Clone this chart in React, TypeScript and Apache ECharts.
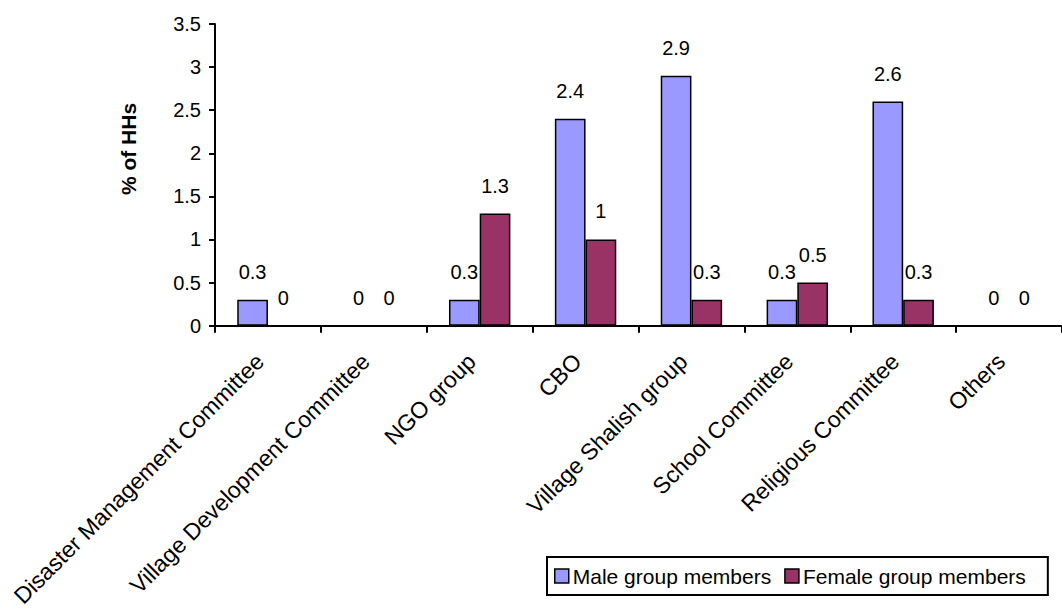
import React, { useEffect, useRef } from "react";
import * as echarts from "echarts";

const categories = [
  "Disaster Management Committee",
  "Village Development Committee",
  "NGO group",
  "CBO",
  "Village Shalish group",
  "School Committee",
  "Religious Committee",
  "Others",
];
const maleValues = [0.3, 0, 0.3, 2.4, 2.9, 0.3, 2.6, 0];
const femaleValues = [0, 0, 1.3, 1, 0.3, 0.5, 0.3, 0];
const seriesNames = ["Male group members", "Female group members"];
const yTitle = "% of HHs";

const FONT = "'Liberation Sans', Arial, sans-serif";

const toItems = (vals: number[]) =>
  vals.map((v) => (v === 0 ? { value: v, itemStyle: { borderWidth: 0 } } : { value: v }));

export default function App() {
  const ref = useRef<HTMLDivElement>(null);
  useEffect(() => {
    if (!ref.current) return;
    const chart = echarts.init(ref.current, null, { renderer: "svg" });
    const labelCfg = {
      show: true,
      position: "top",
      distance: 18,
      color: "#000",
      fontSize: 20,
      fontFamily: FONT,
    };
    chart.setOption({
      animation: false,
      backgroundColor: "#fff",
      textStyle: { fontFamily: FONT },
      grid: { left: 215, top: 24, width: 856, height: 311, containLabel: false },
      legend: {
        left: 547,
        top: 557,
        orient: "horizontal",
        icon: "rect",
        itemWidth: 14,
        itemHeight: 14,
        itemGap: 13,
        padding: [8, 22, 8, 7],
        borderColor: "#000",
        borderWidth: 2,
        itemStyle: { borderColor: "#000", borderWidth: 1.5 },
        textStyle: { color: "#000", fontSize: 21, fontFamily: FONT, padding: [0, 0, 0, -1], lineHeight: 22 },
        data: seriesNames,
      },
      xAxis: {
        type: "category",
        data: categories,
        axisLine: { lineStyle: { color: "#000", width: 2 } },
        axisTick: { show: true, length: 7, lineStyle: { color: "#000", width: 2 } },
        axisLabel: {
          rotate: 45,
          interval: 0,
          margin: 40,
          align: "right",
          verticalAlign: "bottom",
          color: "#000",
          fontSize: 23,
          fontFamily: FONT,
        },
      },
      yAxis: {
        type: "value",
        min: 0,
        max: 3.5,
        interval: 0.5,
        axisLine: { show: true, lineStyle: { color: "#000", width: 2 } },
        axisTick: { show: true, length: 6, lineStyle: { color: "#000", width: 2 } },
        splitLine: { show: false },
        axisLabel: { color: "#000", fontSize: 20, fontFamily: FONT, margin: 14 },
      },
      graphic: [
        {
          type: "text",
          x: 128,
          y: 149,
          rotation: Math.PI / 2,
          style: {
            text: yTitle,
            font: `bold 21px ${FONT}`,
            fill: "#000",
            textAlign: "center",
            textVerticalAlign: "middle",
          },
        },
      ],
      series: [
        {
          name: seriesNames[0],
          type: "bar",
          data: toItems(maleValues),
          barGap: "0%",
          barCategoryGap: "42%",
          itemStyle: { color: "#9999FF", borderColor: "#000", borderWidth: 1.5 },
          label: labelCfg,
        },
        {
          name: seriesNames[1],
          type: "bar",
          data: toItems(femaleValues),
          barGap: "0%",
          barCategoryGap: "42%",
          itemStyle: { color: "#993366", borderColor: "#000", borderWidth: 1.5 },
          label: labelCfg,
        },
      ],
    });
    return () => chart.dispose();
  }, []);
  return (
    <div
      ref={ref}
      style={{ position: "absolute", left: 0, top: 0, width: 1062, height: 610 }}
    />
  );
}
